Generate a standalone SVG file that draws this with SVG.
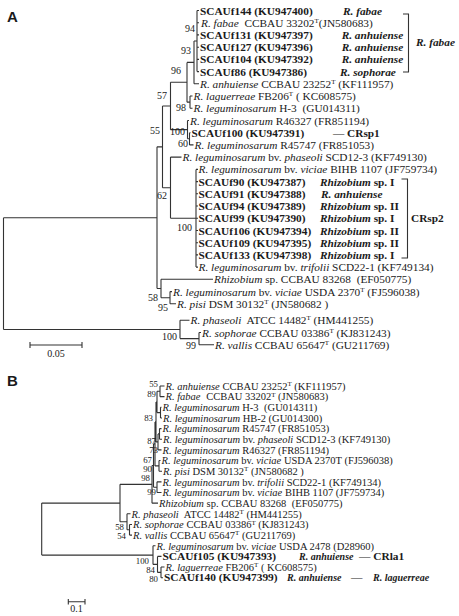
<svg xmlns="http://www.w3.org/2000/svg" width="459" height="616" viewBox="0 0 459 616">
<style>
text{font-family:"Liberation Serif","Times New Roman",serif;fill:#1a1a1a}
.a{font-size:11.3px}
.bt{font-size:10.5px}
.k{font-weight:bold}
.i{font-style:italic}
.ki{font-weight:bold;font-style:italic}
.s{font-size:7px}
.n{font-size:10px;text-anchor:end}
.nb{font-size:8.8px;text-anchor:end}
.sc{font-size:10px;text-anchor:middle}
.bk{font-size:11.4px;font-weight:bold}
.bki{font-size:10px;font-weight:bold;font-style:italic}
.e{stroke:#333;stroke-width:1.1;fill:none}
.lbl{font-family:"Liberation Sans",Arial,sans-serif;font-weight:bold;font-size:15px}
</style>
<text class="lbl" x="7" y="22">A</text>
<text class="lbl" x="7" y="386">B</text>
<g id="edges">
<path class="e" d="M197 10.5V71.6M197 10.5H199M197 22.7H199M197 34.9H199M197 47.2H199M197 59.4H199M197 71.6H199
M194 41.05V83.8M194 41.05H197M194 83.8H199
M190 96V108.3M190 96H192.5M190 108.3H192.5
M187 62.4V102.15M187 62.4H194M187 102.15H190
M189.5 132.7V144.9M189.5 132.7H190.5M189.5 144.9H193.5
M187.5 120.5V138.8M187.5 120.5H189M187.5 138.8H189.5
M170.5 82.3V129.65M170.5 82.3H187M170.5 129.65H187.5
M196 169.4V267.1M196 169.4H198M196 181.6H198M196 193.8H198M196 206H198M196 218.2H198M196 230.5H198M196 242.7H198M196 254.9H198M196 267.1H198
M170.5 157.1V218.25M170.5 157.1H181.5M170.5 218.25H196
M162.5 106V187.7M162.5 106H170.5M162.5 187.7H170.5
M170 291.6V303.8M170 291.6H172M170 303.8H176
M161 279.3V297.7M161 279.3H213M161 297.7H170
M157 146.85V288.5M157 146.85H162.5M157 288.5H161
M199 332.5V344.7M199 332.5H201M199 344.7H214
M180 320.3V338.6M180 320.3H189.5M180 338.6H199
M3.5 217.7V329.45M3.5 217.7H157M3.5 329.45H180"/>
<path class="e" d="M30 345H82M30 342V348M82 342V348"/>
<path class="e" d="M403 14H408.5V72H403M401.5 179H407.5V258H401.5"/>
<path class="e" d="M160 386V396.65M160 386H164.5M160 396.65H164.5
M160.5 407.3V417.95M160.5 407.3H161.5M160.5 417.95H162
M157 391.3V412.6M157 391.3H160M157 412.6H160.5
M159.5 428.6V439.25M159.5 428.6H161.5M159.5 439.25H162
M158 433.9V449.9M158 433.9H159.5M158 449.9H161.5
M156 401.95V441.9M156 401.95H157M156 441.9H158
M159 460.55V471.2M159 460.55H160.5M159 471.2H162
M155 421.9V465.9M155 421.9H156M155 465.9H159
M157 481.85V492.5M157 481.85H161.5M157 492.5H161.5
M153.5 443.9V487.2M153.5 443.9H155M153.5 487.2H157
M152 465.55V503.15M152 465.55H153.5M152 503.15H158
M129.5 524.45V535.1M129.5 524.45H132M129.5 535.1H132
M127 513.8V529.8M127 513.8H130.5M127 529.8H129.5
M120 484.35V521.8M120 484.35H152M120 521.8H127
M161 567.05V577.7M161 567.05H164.5M161 577.7H163
M157.5 556.4V572.4M157.5 556.4H161.5M157.5 572.4H161
M153 545.75V564.4M153 545.75H155.5M153 564.4H157.5
M41.7 503.1V555.1M41.7 503.1H120M41.7 555.1H153"/>
<path class="e" d="M68.3 601.7H85M68.3 599V604.5M85 599V604.5"/>
</g>
<g id="bootstrapA">
<text class="n" x="195" y="32">94</text>
<text class="n" x="191" y="54">93</text>
<text class="n" x="181" y="74">96</text>
<text class="n" x="186" y="111">98</text>
<text class="n" x="167" y="99">57</text>
<text class="n" x="185" y="135">100</text>
<text class="n" x="188" y="147">60</text>
<text class="n" x="160" y="134">55</text>
<text class="n" x="167" y="199">62</text>
<text class="n" x="192" y="231">100</text>
<text class="n" x="158" y="301">58</text>
<text class="n" x="168" y="311">95</text>
<text class="n" x="177" y="340">100</text>
<text class="n" x="196" y="349">99</text>
<text class="sc" x="56" y="357">0.05</text>
</g>
<g id="treeA-leaves" class="a">
<g id="a0"><text x="200" y="14.5"><tspan class="k">SCAUf144 (KU947400)</tspan></text><text class="ki" x="343" y="14.5">R. fabae</text></g>
<g id="a1"><text x="201" y="26.7"><tspan class="i">R. fabae</tspan><tspan dx="3"> CCBAU 33202</tspan><tspan class="s" dy="-4">T</tspan><tspan dy="4">(JN580683)</tspan></text></g>
<g id="a2"><text class="k" x="200" y="38.9">SCAUf131 (KU947397)</text><text class="ki" x="341.7" y="38.9">R. anhuiense</text></g>
<g id="a3"><text class="k" x="200" y="51.2">SCAUf127 (KU947396)</text><text class="ki" x="341.7" y="51.2">R. anhuiense</text></g>
<g id="a4"><text class="k" x="200" y="63.4">SCAUf104 (KU947392)</text><text class="ki" x="341.7" y="63.4">R. anhuiense</text></g>
<g id="a5"><text class="k" x="200" y="75.6">SCAUf86 (KU947386)</text><text class="ki" x="340" y="75.6">R. sophorae</text></g>
<g id="a6"><text x="200" y="87.8"><tspan class="i">R. anhuiense</tspan> CCBAU 23252<tspan class="s" dy="-4">T</tspan><tspan dy="4"> (KF111957)</tspan></text></g>
<g id="a7"><text x="193.5" y="100"><tspan class="i">R. laguerreae</tspan> FB206<tspan class="s" dy="-4">T</tspan><tspan dy="4"> ( KC608575)</tspan></text></g>
<g id="a8"><text x="193.5" y="112.3"><tspan class="i">R. leguminosarum</tspan> H-3 <tspan dx="3">(GU014311)</tspan></text></g>
<g id="a9"><text x="190" y="124.5"><tspan class="i">R. leguminosarum</tspan> R46327 (FR851194)</text></g>
<g id="a10"><text class="k" x="191.5" y="136.7">SCAUf100 (KU947391)</text><text class="k" x="333" y="136.7">— CRsp1</text></g>
<g id="a11"><text x="194.5" y="148.9"><tspan class="i">R. leguminosarum</tspan> R45747 (FR851053)</text></g>
<g id="a12"><text x="182.5" y="161.1"><tspan class="i">R. leguminosarum</tspan> bv. <tspan class="i">phaseoli</tspan> SCD12-3 (KF749130)</text></g>
<g id="a13"><text x="198.5" y="173.4"><tspan class="i">R. leguminosarum</tspan> bv. <tspan class="i">viciae</tspan> BIHB 1107 (JF759734)</text></g>
<g id="a14"><text class="k" x="198.5" y="185.6">SCAUf90 (KU947387)</text><text class="k" x="320" y="185.6"><tspan class="i">Rhizobium</tspan> sp. I</text></g>
<g id="a15"><text class="k" x="198.5" y="197.8">SCAUf91 (KU947388)</text><text class="ki" x="321" y="197.8">R. anhuiense</text></g>
<g id="a16"><text class="k" x="198.5" y="210">SCAUf94 (KU947389)</text><text class="k" x="320" y="210"><tspan class="i">Rhizobium</tspan> sp. II</text></g>
<g id="a17"><text class="k" x="198.5" y="222.2">SCAUf99 (KU947390)</text><text class="k" x="320" y="222.2"><tspan class="i">Rhizobium</tspan> sp. I</text></g>
<g id="a18"><text class="k" x="198.5" y="234.5">SCAUf106 (KU947394)</text><text class="k" x="320" y="234.5"><tspan class="i">Rhizobium</tspan> sp. II</text></g>
<g id="a19"><text class="k" x="198.5" y="246.7">SCAUf109 (KU947395)</text><text class="k" x="320" y="246.7"><tspan class="i">Rhizobium</tspan> sp. II</text></g>
<g id="a20"><text class="k" x="198.5" y="258.9">SCAUf133 (KU947398)</text><text class="k" x="320" y="258.9"><tspan class="i">Rhizobium</tspan> sp. I</text></g>
<g id="a21"><text x="198.5" y="271.1"><tspan class="i">R. leguminosarum</tspan> bv. <tspan class="i">trifolii</tspan> SCD22-1 (KF749134)</text></g>
<g id="a22"><text x="214" y="283.3"><tspan class="i">Rhizobium</tspan> sp. CCBAU 83268 <tspan dx="3">(EF050775)</tspan></text></g>
<g id="a23"><text x="173" y="295.6"><tspan class="i">R. leguminosarum</tspan> bv. <tspan class="i">viciae</tspan> USDA 2370<tspan class="s" dy="-4">T</tspan><tspan dy="4"> (FJ596038)</tspan></text></g>
<g id="a24"><text x="177" y="307.8"><tspan class="i">R. pisi</tspan> DSM 30132<tspan class="s" dy="-4">T</tspan><tspan dy="4"> (JN580682 )</tspan></text></g>
<g id="a25"><text x="190.5" y="324.3"><tspan class="i">R. phaseoli</tspan><tspan dx="3"> ATCC 14482</tspan><tspan class="s" dy="-4">T</tspan><tspan dy="4"> (HM441255)</tspan></text></g>
<g id="a26"><text x="202" y="336.5"><tspan class="i">R. sophorae</tspan> CCBAU 03386<tspan class="s" dy="-4">T</tspan><tspan dy="4"> (KJ831243)</tspan></text></g>
<g id="a27"><text x="215" y="348.7"><tspan class="i">R. vallis</tspan> CCBAU 65647<tspan class="s" dy="-4">T</tspan><tspan dy="4"> (GU211769)</tspan></text></g>
<g id="cladeA-fabae"><text class="ki" x="416" y="46">R. fabae</text></g>
<g id="cladeA-CRsp2"><text class="k" x="411" y="222">CRsp2</text></g>
</g>
<g id="bootstrapB">
<text class="nb" x="158" y="386.5">55</text>
<text class="nb" x="156" y="396.5">89</text>
<text class="nb" x="153" y="421">83</text>
<text class="nb" x="156" y="443.5">87</text>
<text class="nb" x="158" y="452.5">73</text>
<text class="nb" x="152" y="462.5">67</text>
<text class="nb" x="152" y="471.5">90</text>
<text class="nb" x="150" y="480.5">98</text>
<text class="nb" x="156" y="494.5">99</text>
<text class="nb" x="124" y="530">58</text>
<text class="nb" x="126" y="539">54</text>
<text class="nb" x="149" y="563.5">100</text>
<text class="nb" x="155" y="572.5">84</text>
<text class="nb" x="158" y="581.5">80</text>
<text class="sc" x="76.5" y="612">0.1</text>
</g>
<g id="treeB-leaves" class="bt">
<g id="b0"><text x="165.5" y="389.7"><tspan class="i">R. anhuiense</tspan> CCBAU 23252<tspan class="s" dy="-3.5">T</tspan><tspan dy="3.5"> (KF111957)</tspan></text></g>
<g id="b1"><text x="165.5" y="400.4"><tspan class="i">R. fabae</tspan><tspan dx="3"> CCBAU 33202</tspan><tspan class="s" dy="-3.5">T</tspan><tspan dy="3.5"> (JN580683)</tspan></text></g>
<g id="b2"><text x="162.5" y="411"><tspan class="i">R. leguminosarum</tspan> H-3 <tspan dx="3">(GU014311)</tspan></text></g>
<g id="b3"><text x="163" y="421.7"><tspan class="i">R. leguminosarum</tspan> HB-2 (GU014300)</text></g>
<g id="b4"><text x="162.5" y="432.3"><tspan class="i">R. leguminosarum</tspan> R45747 (FR851053)</text></g>
<g id="b5"><text x="163" y="443"><tspan class="i">R. leguminosarum</tspan> bv. <tspan class="i">phaseoli</tspan> SCD12-3 (KF749130)</text></g>
<g id="b6"><text x="162.5" y="453.6"><tspan class="i">R. leguminosarum</tspan> R46327 (FR851194)</text></g>
<g id="b7"><text x="161.5" y="464.3"><tspan class="i">R. leguminosarum</tspan> bv. <tspan class="i">viciae</tspan> USDA 2370T (FJ596038)</text></g>
<g id="b8"><text x="163" y="474.9"><tspan class="i">R. pisi</tspan> DSM 30132<tspan class="s" dy="-3.5">T</tspan><tspan dy="3.5"> (JN580682 )</tspan></text></g>
<g id="b9"><text x="162.5" y="485.6"><tspan class="i">R. leguminosarum</tspan> bv. <tspan class="i">trifolii</tspan> SCD22-1 (KF749134)</text></g>
<g id="b10"><text x="162.5" y="496.2"><tspan class="i">R. leguminosarum</tspan> bv. <tspan class="i">viciae</tspan> BIHB 1107 (JF759734)</text></g>
<g id="b11"><text x="159" y="506.9"><tspan class="i">Rhizobium</tspan> sp. CCBAU 83268 <tspan dx="3">(EF050775)</tspan></text></g>
<g id="b12"><text x="131.5" y="517.5"><tspan class="i">R. phaseoli</tspan><tspan dx="3"> ATCC 14482</tspan><tspan class="s" dy="-3.5">T</tspan><tspan dy="3.5"> (HM441255)</tspan></text></g>
<g id="b13"><text x="133" y="528.2"><tspan class="i">R. sophorae</tspan> CCBAU 03386<tspan class="s" dy="-3.5">T</tspan><tspan dy="3.5"> (KJ831243)</tspan></text></g>
<g id="b14"><text x="133" y="538.8"><tspan class="i">R. vallis</tspan> CCBAU 65647<tspan class="s" dy="-3.5">T</tspan><tspan dy="3.5"> (GU211769)</tspan></text></g>
<g id="b15"><text x="156.5" y="549.5"><tspan class="i">R. leguminosarum</tspan> bv. <tspan class="i">viciae</tspan> USDA 2478 (D28960)</text></g>
<g id="b16"><text class="bk" x="162.5" y="560.1">SCAUf105 (KU947393)</text><text class="bki" x="299" y="560.1">R. anhuiense</text><text class="bk" x="359" y="560.1">— CRla1</text></g>
<g id="b17"><text x="165.5" y="570.8"><tspan class="i">R. laguerreae</tspan> FB206<tspan class="s" dy="-3.5">T</tspan><tspan dy="3.5"> ( KC608575)</tspan></text></g>
<g id="b18"><text class="bk" x="164" y="581.4">SCAUf140 (KU947399)</text><text class="bki" x="287" y="581.4">R. anhuiense</text><text class="bk" x="351" y="581.4">—</text><text class="bki" x="373" y="581.4">R. laguerreae</text></g>
</g>
</svg>
